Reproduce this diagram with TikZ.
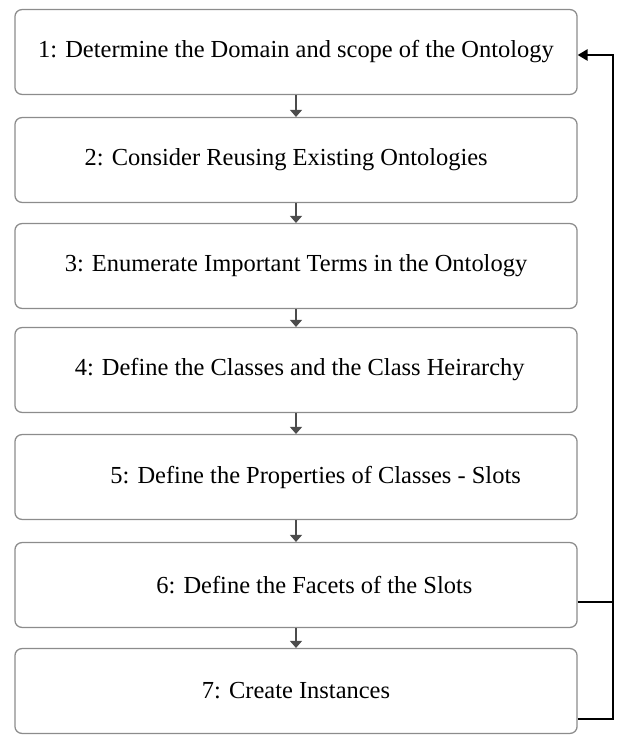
\documentclass[tikz,border=0pt]{standalone}
\usepackage{fontspec}
\setmainfont{Liberation Serif}
\usetikzlibrary{arrows.meta,calc}

\begin{document}
\begin{tikzpicture}[x=0.025cm,y=-0.025cm,
	stepbox/.style={draw=black!45,line width=0.9pt,rounded corners=5pt,fill=white,
		minimum width=14.05cm,minimum height=2.12cm,font=\fontsize{17.4}{20}\selectfont,inner sep=0pt},
	down/.style={draw=black!70,line width=0.9pt,-{Triangle[width=8.5pt,length=5pt]}},
	back/.style={draw=black,line width=1.1pt}]
	\useasboundingbox (0,0) rectangle (623,735);
	\node[stepbox] (A) at (296,52) {1: Determine the Domain and scope of the Ontology};
	\node[stepbox] (B) at (296,160) {2: Consider Reusing Existing Ontologies\hspace*{0.8em}};
	\node[stepbox] (C) at (296,266) {3: Enumerate Important Terms in the Ontology};
	\node[stepbox] (D) at (296,370) {\hspace*{0.3em}4: Define the Classes and the Class Heirarchy};
	\node[stepbox] (E) at (296,477) {\hspace*{1.6em}5: Define the Properties of Classes - Slots};
	\node[stepbox] (F) at (296,585) {\hspace*{1.5em}6: Define the Facets of the Slots};
	\node[stepbox] (G) at (296,691) {7: Create Instances};
	\draw[down] (A) -- (B);
	\draw[down] (B) -- (C);
	\draw[down] (C) -- (D);
	\draw[down] (D) -- (E);
	\draw[down] (E) -- (F);
	\draw[down] (F) -- (G);
	% loop back to the first step
	\coordinate (R) at (613,55);
	\draw[back] ($(G.east)+(0,28)$) -| (R);
	\draw[back,-{Triangle[width=8pt,length=7pt]}] ($(F.east)+(0,17)$) -| (R) -- (A.east |- R);
\end{tikzpicture}
\end{document}
